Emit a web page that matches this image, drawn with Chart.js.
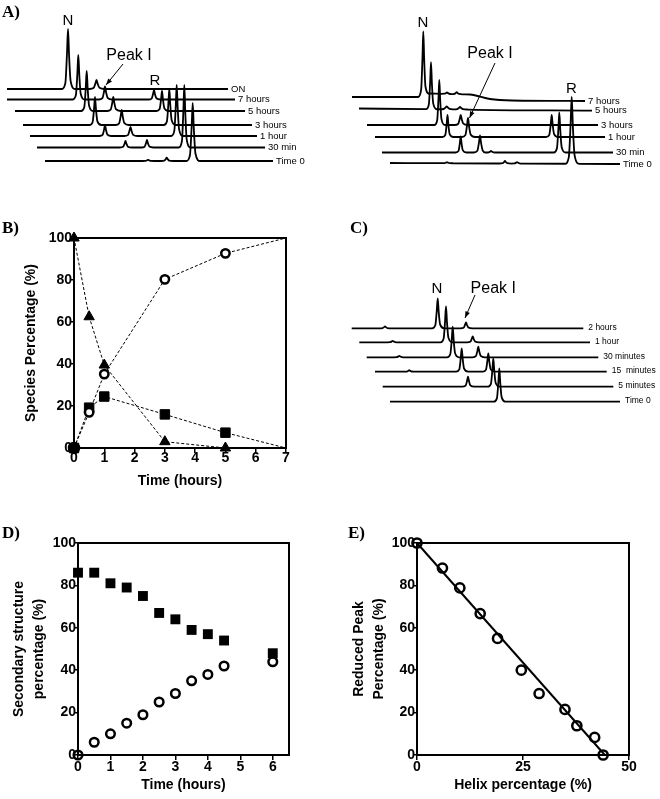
<!DOCTYPE html>
<html><head><meta charset="utf-8">
<script src="https://cdn.jsdelivr.net/npm/chart.js@4.4.0/dist/chart.umd.min.js"></script>
<style>
html,body{margin:0;padding:0;background:#fff;}
#wrap{position:relative;width:660px;height:799px;overflow:hidden;background:#fff;}
canvas{position:absolute;}
.pl{position:absolute;font:bold 17px "Liberation Serif","Times New Roman",serif;color:#000;line-height:1;white-space:nowrap;}
</style></head><body>
<div id="wrap">
<canvas id="cA1" width="330" height="175" style="left:0;top:0"></canvas>
<canvas id="cA2" width="330" height="175" style="left:330px;top:0"></canvas>
<canvas id="cB" width="330" height="320" style="left:0;top:180px"></canvas>
<canvas id="cC" width="330" height="240" style="left:330px;top:180px"></canvas>
<canvas id="cD" width="330" height="279" style="left:0;top:520px"></canvas>
<canvas id="cE" width="330" height="279" style="left:330px;top:520px"></canvas>
<div class="pl" style="left:2px;top:3px">A)</div>
<div class="pl" style="left:2px;top:219px">B)</div>
<div class="pl" style="left:350px;top:219px">C)</div>
<div class="pl" style="left:2px;top:524px">D)</div>
<div class="pl" style="left:348px;top:524px">E)</div>
</div>
<script>
// ---------------- DATA ----------------
// Panel A (left): chromatogram traces, peaks given as [retention position, height(, width)]
const A1_names = ['ON','7 hours','5 hours','3 hours','1 hour','30 min','Time 0'];
const A1_start = [7,7,15,23,30,37,45];
const A1_end   = [228,235,245,252,257,265,273];
const A1_base  = [89,99.5,111,125,136,147.5,161];
const A1_peaks = [
  [[68,60,2.2],[96.5,9,2.5]],
  [[78.3,44.5],[105,13,2.2],[154,9.5]],
  [[86.7,40],[113.3,14,2.2],[162,20]],
  [[95,28],[121.7,15,2.2],[169.3,36]],
  [[105,11],[130.5,9,2.2],[176.7,51]],
  [[125.5,6.5],[147,7.5],[184.3,62.5]],
  [[148,1.2],[166.7,3.3],[192.7,58,2.3]]
];
// Panel A (right)
const A2_names = ['7 hours','5 hours','3 hours','1 hour','30 min','Time 0'];
const A2_start = [352,359,367,375,382,390];
const A2_end   = [585,592,598,605,613,620];
const A2_base  = [
  [[352,97],[418,97],[430,93.5],[470,94.5],[490,99],[512,100.5],[585,101]],
  [[359,108.5],[592,110.7]],
  125, 137, 152.5,
  [[390,163],[620,164]]
];
const A2_peaks = [
  [[423.3,64,1.8],[447,1.5],[456.7,2]],
  [[431,47,1.8],[446.7,3,2.5],[460,2.5,2.5]],
  [[439.3,45,1.8],[460.7,10,2.2]],
  [[447.5,22,1.8],[468,19,2.2],[551.7,22]],
  [[460.7,16,1.8],[480,17,2.2],[491,1.5],[559.3,40]],
  [[447,1],[505,2.5],[517,1.5],[571.7,67,2.4]]
];
// Panel B
const B_time     = [0,0.5,1,3,5,7];
const B_native   = [100,62.5,39.5,3,0];      // triangles (0..5 h)
const B_peakI    = [0,19.2,24.5,16,7.3,0];   // squares
const B_reduced  = [0,17,35.2,80.3,92.7,100];// circles
// Panel C
const C_names = ['2 hours','1 hour','30 minutes','15  minutes','5 minutes','Time 0'];
const C_start = [351.7,359.3,366.7,375,382.7,390];
const C_end   = [583.3,590,598.3,606.7,613.3,620];
const C_base  = [328.3,342.3,357.3,371.7,386.7,401.7];
const C_peaks = [
  [[385,2],[437.7,30],[466,6]],
  [[392.7,1.5],[446,36],[472.7,6]],
  [[399.3,1.5],[452.7,30.7],[478.3,10.7]],
  [[409.3,1.5],[461.7,23.3],[488.3,18.3]],
  [[468,10],[493.3,28.3]],
  [[499.3,33.3]]
];
// Panel D
const D_time  = [0,0.5,1,1.5,2,2.5,3,3.5,4,4.5,6];
const D_sq    = [86,86,81,79,75,67,64,59,57,54,48];
const D_circ  = [0,6,10,15,19,25,29,35,38,42,44];
// Panel E
const E_helix   = [0,6,10.1,14.9,19,24.6,28.8,34.9,37.7,41.9,43.9];
const E_reduced = [100,88.2,78.8,66.7,55,40,29,21.5,13.8,8.3,0];
const E_fitX = [0,44.3];
const E_fitY = [100,0];

// ---------------- HELPERS ----------------
const FONT = '"Liberation Sans", Arial, Helvetica, sans-serif';
Chart.defaults.font.family = FONT;
Chart.defaults.color = '#000';
const PEAK_SHAPE = [[-2.8,0],[-1.2,0.1],[-0.45,0.6],[0,1],[0.5,0.55],[1.2,0.13],[3.2,0]];

function baseAt(base,x){
  if (typeof base === 'number') return base;
  if (x <= base[0][0]) return base[0][1];
  for (let i=1;i<base.length;i++){
    if (x <= base[i][0]){ const a=base[i-1], b=base[i]; return a[1]+(b[1]-a[1])*(x-a[0])/(b[0]-a[0]); }
  }
  return base[base.length-1][1];
}
function buildTrace(start,end,base,peaks){
  const pts=[];
  const spans = peaks.map(p=>{const w=p[2]||2; return [p[0]+PEAK_SHAPE[0][0]*w, p[0]+PEAK_SHAPE[PEAK_SHAPE.length-1][0]*w];});
  const inPeak = x => spans.some(s=>x>=s[0]&&x<=s[1]);
  pts.push({x:start,y:baseAt(base,start)});
  if (typeof base !== 'number') base.forEach(k=>{ if (k[0]>start && k[0]<end && !inPeak(k[0])) pts.push({x:k[0],y:k[1]}); });
  peaks.forEach(p=>{ const w=p[2]||2; PEAK_SHAPE.forEach(s=>{ const x=p[0]+s[0]*w; if (x>start && x<end) pts.push({x, y: baseAt(base,x)-s[1]*p[1]}); }); });
  pts.push({x:end,y:baseAt(base,end)});
  pts.sort((a,b)=>a.x-b.x);
  return pts;
}
function arrow(ctx,x1,y1,x2,y2){
  ctx.beginPath(); ctx.moveTo(x1,y1); ctx.lineTo(x2,y2); ctx.lineWidth=1; ctx.strokeStyle='#000'; ctx.stroke();
  const ang=Math.atan2(y2-y1,x2-x1), L=7, W=0.35;
  ctx.beginPath(); ctx.moveTo(x2,y2);
  ctx.lineTo(x2-L*Math.cos(ang-W), y2-L*Math.sin(ang-W));
  ctx.lineTo(x2-L*Math.cos(ang+W), y2-L*Math.sin(ang+W));
  ctx.closePath(); ctx.fill();
}
function chromChart(id,xmin,ymin,w,h,cfg){
  const traces = cfg.names.map((n,i)=>buildTrace(cfg.start[i],cfg.end[i],cfg.base[i],cfg.peaks[i]));
  return new Chart(document.getElementById(id),{
    type:'scatter',
    data:{datasets:traces.map(pts=>({data:pts,showLine:true,borderColor:'#000',borderWidth:1.8,pointRadius:0,cubicInterpolationMode:'monotone',clip:false}))},
    options:{responsive:false,animation:false,devicePixelRatio:1,events:[],layout:{padding:0},
      plugins:{legend:{display:false},tooltip:{enabled:false}},
      scales:{x:{type:'linear',display:false,min:xmin,max:xmin+w},y:{type:'linear',display:false,min:ymin,max:ymin+h,reverse:true}}},
    plugins:[{id:'anno',afterDatasetsDraw(chart){
      const {ctx,scales:{x,y}}=chart;
      ctx.save(); ctx.fillStyle='#000'; ctx.textBaseline='alphabetic';
      ctx.font = cfg.labelSize+'px '+FONT; ctx.textAlign='left';
      cfg.names.forEach((n,i)=>{ ctx.fillText(n, x.getPixelForValue(cfg.end[i])+cfg.gap, y.getPixelForValue(baseAt(cfg.base[i],cfg.end[i]))+cfg.dy); });
      cfg.texts.forEach(t=>{ ctx.font=t.size+'px '+FONT; ctx.textAlign='center'; ctx.fillText(t.text, x.getPixelForValue(t.x), y.getPixelForValue(t.y)); });
      cfg.arrows.forEach(a=>arrow(ctx,x.getPixelForValue(a[0]),y.getPixelForValue(a[1]),x.getPixelForValue(a[2]),y.getPixelForValue(a[3])));
      ctx.restore();
    }}]
  });
}

chromChart('cA1',0,0,330,175,{names:A1_names,start:A1_start,end:A1_end,base:A1_base,peaks:A1_peaks,labelSize:9.5,gap:3,dy:2.5,
  texts:[{text:'N',x:68,y:25,size:15},{text:'Peak I',x:129,y:60,size:16},{text:'R',x:155,y:85,size:15}],
  arrows:[[123,64,106,85]]});
chromChart('cA2',330,0,330,175,{names:A2_names,start:A2_start,end:A2_end,base:A2_base,peaks:A2_peaks,labelSize:9.5,gap:3,dy:2.5,
  texts:[{text:'N',x:423,y:26.5,size:15},{text:'Peak I',x:490,y:58,size:16},{text:'R',x:571.5,y:92.5,size:15}],
  arrows:[[495,63,469.5,118]]});
chromChart('cC',330,180,330,240,{names:C_names,start:C_start,end:C_end,base:C_base,peaks:C_peaks,labelSize:8.5,gap:5,dy:1.5,
  texts:[{text:'N',x:437,y:293.3,size:15},{text:'Peak I',x:493.3,y:293.3,size:16}],
  arrows:[[475,295,465,318]]});

// ---------------- SCATTER PANELS ----------------
const frame = {id:'frame',beforeDatasetsDraw(chart){const {ctx,chartArea:a}=chart;ctx.save();ctx.strokeStyle='#000';ctx.lineWidth=2;ctx.strokeRect(a.left,a.top,a.right-a.left,a.bottom-a.top);ctx.restore();}};
function xAxis(min,max,step,title,h,tpad,lpad){
  return {type:'linear',position:'bottom',min,max,
    ticks:{stepSize:step,includeBounds:false,color:'#000',font:{size:14,weight:'bold',lineHeight:1},padding:lpad,maxRotation:0,autoSkip:false},
    grid:{drawOnChartArea:false,drawTicks:true,tickLength:5,color:'#000',lineWidth:1.5},
    border:{display:true,color:'#000',width:2},
    title:{display:true,text:title,color:'#000',font:{size:14,weight:'bold',lineHeight:1.2},padding:{top:0,bottom:tpad}},
    afterFit:s=>{s.height=h;}};
}
function yAxis(min,max,step,title,w,tpad,lh){
  return {type:'linear',position:'left',min,max,
    ticks:{stepSize:step,includeBounds:false,color:'#000',font:{size:14,weight:'bold',lineHeight:1},padding:-1,autoSkip:false},
    grid:{drawOnChartArea:false,drawTicks:true,tickLength:3,color:'#000',lineWidth:1.5},
    border:{display:true,color:'#000',width:2},
    title:{display:true,text:title,color:'#000',font:{size:14,weight:'bold',lineHeight:lh},padding:{top:tpad,bottom:0}},
    afterFit:s=>{s.width=w;}};
}
const baseOpts = (pad)=>({responsive:false,animation:false,devicePixelRatio:1,events:[],layout:{padding:pad},
  plugins:{legend:{display:false},tooltip:{enabled:false}}});

// Panel B
new Chart(document.getElementById('cB'),{
  type:'scatter',
  data:{datasets:[
    {data:B_time.map((t,i)=>({x:t,y:B_reduced[i]})),showLine:true,borderColor:'#000',borderWidth:1,borderDash:[3,2],
     pointStyle:'circle',pointRadius:[5,4.2,4.2,4.2,4.2,0],pointBorderWidth:2.5,pointBorderColor:'#000',
     pointBackgroundColor:['#000','#fff','#fff','#fff','#fff','#fff'],clip:false},
    {data:B_time.slice(0,5).map((t,i)=>({x:t,y:B_native[i]})),showLine:true,borderColor:'#000',borderWidth:1,borderDash:[3,2],
     pointStyle:'triangle',pointRadius:6,pointBorderWidth:1,pointBorderColor:'#000',pointBackgroundColor:'#000',clip:false},
    {data:B_time.map((t,i)=>({x:t,y:B_peakI[i]})),showLine:true,borderColor:'#000',borderWidth:1,borderDash:[3,2],
     pointStyle:'rect',pointRadius:[6.7,6.7,6.7,6.7,6.7,0],pointBorderWidth:1,pointBorderColor:'#000',pointBackgroundColor:'#000',clip:false}
  ]},
  options:Object.assign(baseOpts({top:58,right:44,left:0,bottom:0}),{
    scales:{x:xAxis(0,7,1,'Time (hours)',52,10,-2.3),y:yAxis(0,100,20,'Species Percentage (%)',74,22.6,1.2)}}),
  plugins:[frame]
});

// Panel D
new Chart(document.getElementById('cD'),{
  type:'scatter',
  data:{datasets:[
    {data:D_time.map((t,i)=>({x:t,y:D_circ[i]})),pointStyle:'circle',pointRadius:4.3,pointBorderWidth:2.5,pointBorderColor:'#000',pointBackgroundColor:'rgba(255,255,255,0)',clip:false},
    {data:D_time.map((t,i)=>({x:t,y:D_sq[i]})),pointStyle:'rect',pointRadius:7,pointBorderWidth:0,pointBorderColor:'#000',pointBackgroundColor:'#000',clip:false}
  ]},
  options:Object.assign(baseOpts({top:23,right:41,left:0,bottom:0}),{
    scales:{x:xAxis(0,6.5,1,'Time (hours)',44,5.6,0),y:yAxis(0,100,20,['Secondary structure','percentage (%)'],78,9,1.43)}}),
  plugins:[frame]
});

// Panel E
new Chart(document.getElementById('cE'),{
  type:'scatter',
  data:{datasets:[
    {data:E_helix.map((h,i)=>({x:h,y:E_reduced[i]})),pointStyle:'circle',pointRadius:4.6,pointBorderWidth:2.5,pointBorderColor:'#000',pointBackgroundColor:'rgba(255,255,255,0)',clip:false},
    {data:E_fitX.map((x,i)=>({x,y:E_fitY[i]})),showLine:true,borderColor:'#000',borderWidth:2,pointRadius:0,clip:false}
  ]},
  options:Object.assign(baseOpts({top:23,right:31,left:0,bottom:0}),{
    scales:{x:xAxis(0,50,25,'Helix percentage (%)',44,5.6,0),y:yAxis(0,100,20,['Reduced Peak','Percentage (%)'],87,19,1.43)}}),
  plugins:[frame]
});
</script>
</body></html>
